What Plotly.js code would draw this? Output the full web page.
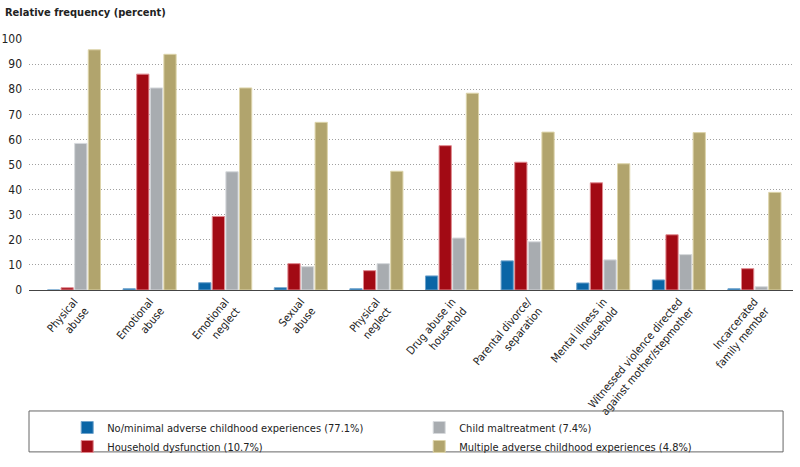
<!DOCTYPE html>
<html>
<head>
<meta charset="utf-8">
<script src="https://cdn.plot.ly/plotly-3.0.1.min.js"></script>
<style>html,body{margin:0;padding:0;background:#fff;}#chart{width:800px;height:467px;}</style>
</head>
<body>
<div id="chart"></div>
<script>
const categories = [
  "Physical<br>abuse",
  "Emotional<br>abuse",
  "Emotional<br>neglect",
  "Sexual<br>abuse",
  "Physical<br>neglect",
  "Drug abuse in<br>household",
  "Parental divorce/<br>separation",
  "Mental illness in<br>household",
  "Witnessed violence directed<br>against mother/stepmother",
  "Incarcerated<br>family member"
];
const seriesNames = [
  "No/minimal adverse childhood experiences (77.1%)",
  "Household dysfunction (10.7%)",
  "Child maltreatment (7.4%)",
  "Multiple adverse childhood experiences (4.8%)"
];
const noMinimal = [0, 0.5, 2.9, 0.9, 0.5, 5.6, 11.6, 2.8, 4.0, 0.5];
const householdDysfunction = [0.9, 86.0, 29.3, 10.5, 7.7, 57.5, 50.9, 42.7, 22.0, 8.5];
const childMaltreatment = [58.4, 80.5, 47.1, 9.3, 10.5, 20.7, 19.2, 12.0, 14.1, 1.3];
const multipleACE = [95.7, 93.9, 80.5, 66.8, 47.3, 78.4, 62.9, 50.3, 62.7, 38.9];
const yTicks = [0, 10, 20, 30, 40, 50, 60, 70, 80, 90, 100];

const colors = ["#0a65a6", "#a20a14", "#a8acb0", "#b1a46d"];
const edges = ["#6fa3cc", "#e08a90", "#d6d9dc", "#ddd4aa"];
const ranks = [1, 3, 2, 4];
const values = [noMinimal, householdDysfunction, childMaltreatment, multipleACE];
const FONT = "'DejaVu Sans Condensed', 'DejaVu Sans', sans-serif";
const baseFont = {family: FONT, size: 11, color: "#222", stretch: "condensed"};

const traces = values.map((v, i) => ({
  type: "bar",
  x: categories,
  y: v,
  name: seriesNames[i],
  legendrank: ranks[i],
  marker: {color: colors[i], line: {color: edges[i], width: 1}},
  hoverinfo: "x+y"
}));

const layout = {
  width: 800,
  height: 467,
  margin: {l: 29, r: 7, t: 39, b: 177, autoexpand: false},
  paper_bgcolor: "#fff",
  plot_bgcolor: "#fff",
  font: baseFont,
  barmode: "group",
  bargap: 0.28,
  bargroupgap: 0.1,
  showlegend: true,
  legend: {
    orientation: "h",
    x: 0.05, xanchor: "left",
    y: -0.49, yanchor: "top",
    entrywidth: 307,
    entrywidthmode: "pixels",
    traceorder: "normal",
    font: baseFont,
    itemwidth: 30,
    bgcolor: "rgba(0,0,0,0)",
    borderwidth: 0
  },
  xaxis: {
    type: "category",
    range: [-0.595, 9.51],
    tickangle: -50,
    showgrid: false,
    showline: true,
    linecolor: "#444",
    linewidth: 1,
    ticks: "",
    automargin: false,
    tickfont: baseFont,
    fixedrange: true
  },
  yaxis: {
    range: [0, 100],
    tickvals: yTicks,
    ticktext: yTicks.map(String),
    showgrid: true,
    gridcolor: "#a0a0a0",
    griddash: "1px,2px",
    gridwidth: 1,
    zeroline: false,
    showline: false,
    ticks: "",
    automargin: false,
    ticklabelstandoff: 6,
    tickfont: Object.assign({}, baseFont, {size: 12}),
    fixedrange: true
  },
  annotations: [{
    text: "<b>Relative frequency (percent)</b>",
    xref: "paper", yref: "paper",
    x: -0.034, y: 1.104,
    xanchor: "left", yanchor: "middle",
    showarrow: false,
    font: baseFont
  }],
  shapes: [{
    type: "rect",
    xref: "paper", yref: "paper",
    x0: 0.0, x1: 0.987,
    y0: -0.482, y1: -0.645,
    line: {color: "#666", width: 1},
    fillcolor: "rgba(0,0,0,0)"
  }]
};

Plotly.newPlot("chart", traces, layout, {displayModeBar: false, staticPlot: true});
</script>
</body>
</html>
